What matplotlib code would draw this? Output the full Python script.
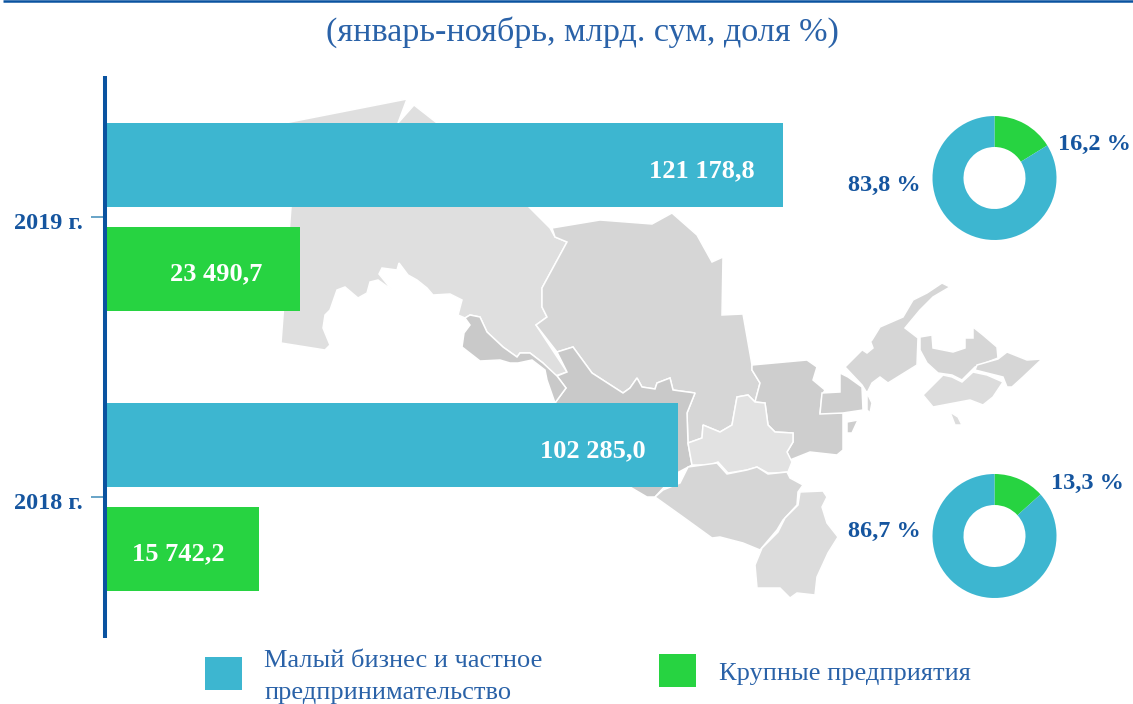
"""Small business vs large enterprises, January-November 2018/2019, over a map."""

import matplotlib

matplotlib.use("Agg")
import matplotlib.pyplot as plt
from matplotlib.patches import Polygon, Rectangle
from matplotlib.transforms import ScaledTranslation

WIDTH, HEIGHT = 1133, 704
SERIF = "Liberation Serif"

BLUE = "#3db6d0"
GREEN = "#27d341"
AXIS_BLUE = "#0a53a0"
TEXT_BLUE = "#2a62a8"
LABEL_BLUE = "#15559f"

TITLE = "(январь-ноябрь, млрд. сум, доля %)"
YEARS = ["2019 г.", "2018 г."]
SERIES = ["Малый бизнес и частное\nпредпринимательство", "Крупные предприятия"]

SMALL_BUSINESS = [121178.8, 102285.0]
# The printed values below do not fit the green bars on the blue bars' scale,
# so these are the lengths as drawn in the picture.
LARGE_DRAWN = [34600, 27250]
SMALL_LABELS = ["121 178,8", "102 285,0"]
LARGE_LABELS = ["23 490,7", "15 742,2"]

SHARE_SMALL = [83.8, 86.7]
SHARE_LARGE = [16.2, 13.3]
SHARE_SMALL_LABELS = ["83,8 %", "86,7 %"]
SHARE_LARGE_LABELS = ["16,2 %", "13,3 %"]

# Label gap from the bar end, in points
SMALL_LABEL_GAP = [-20.5, -23]
LARGE_LABEL_GAP = [-27, -25]

# Background map outlines, traced in image pixels
KARAKALPAKSTAN = [(285, 123), (407, 99), (398, 123), (414, 105), (437, 123), (529, 207), (550, 228), (555, 237),
                  (567, 242), (542, 288), (542, 307), (547, 317), (536, 325), (567, 372), (555, 376), (543, 363),
                  (530, 353), (520, 353), (517, 357), (503, 347), (487, 332), (480, 317), (470, 315), (465, 318),
                  (458, 315), (462, 300), (450, 294), (433, 295), (427, 288), (417, 280), (408, 275), (399, 263),
                  (397, 270), (382, 268), (379, 274), (392, 290), (378, 280), (370, 282), (367, 293), (358, 298),
                  (345, 287), (337, 290), (330, 310), (325, 315), (323, 328), (330, 345), (325, 350), (281, 343),
                  (291, 207)]
NAVOI = [(552, 228), (600, 220), (652, 224), (672, 213), (697, 235), (712, 262), (723, 257), (722, 315), (743, 314),
         (752, 365), (752, 370), (760, 383), (755, 402), (748, 395), (737, 397), (732, 425), (720, 432), (703, 425),
         (702, 438), (688, 443), (687, 413), (695, 393), (673, 390), (670, 378), (657, 383), (655, 389), (642, 387),
         (637, 378), (630, 388), (623, 393), (592, 373), (573, 347), (557, 352), (536, 325), (547, 317), (542, 307),
         (542, 288), (567, 242), (555, 237)]
BUKHARA = [(557, 352), (573, 347), (592, 373), (623, 393), (630, 388), (637, 378), (642, 387), (655, 389), (657, 383),
           (670, 378), (673, 390), (695, 393), (687, 413), (688, 443), (692, 465), (677, 473), (655, 497), (647, 497),
           (630, 487), (555, 403), (566, 388), (557, 376), (567, 372)]
KHOREZM = [(470, 315), (480, 317), (487, 332), (503, 347), (517, 357), (520, 353), (530, 353), (543, 363), (557, 376),
           (566, 388), (555, 403), (547, 380), (545, 370), (532, 360), (518, 363), (510, 363), (500, 360), (480, 361),
           (462, 347), (464, 333), (470, 325), (465, 318)]
SAMARKAND = [(737, 397), (748, 395), (755, 402), (765, 403), (768, 425), (775, 432), (793, 433), (793, 442), (787, 452),
             (792, 462), (788, 472), (775, 473), (768, 473), (757, 467), (747, 470), (728, 473), (718, 462), (710, 465),
             (692, 465), (688, 443), (702, 438), (703, 425), (720, 432), (732, 425)]
JIZZAKH = [(752, 365), (807, 360), (817, 367), (813, 380), (825, 390), (822, 395), (820, 413), (843, 413), (843, 450),
           (837, 455), (810, 452), (790, 460), (787, 452), (793, 442), (793, 433), (775, 432), (768, 425), (765, 403),
           (755, 402), (760, 383), (752, 370)]
SYRDARYA = [(840, 373), (848, 377), (862, 387), (863, 410), (843, 413), (820, 414), (822, 393), (840, 392)]
SYRDARYA_ISLAND = [(847, 422), (858, 420), (852, 433), (847, 433)]
TASHKENT = [(950, 287), (942, 283), (927, 293), (913, 300), (903, 317), (880, 327), (872, 340), (845, 367), (862, 385),
            (867, 393), (872, 403), (870, 413), (867, 410), (867, 393), (872, 383), (880, 377), (888, 383), (917, 365),
            (918, 338), (905, 328), (920, 310), (933, 297)]
TASHKENT_LAKE = [(862, 342), (870, 340), (873, 348), (867, 353), (861, 349)]
NAMANGAN = [(920, 337), (932, 335), (933, 348), (953, 352), (965, 348), (965, 338), (973, 338), (973, 327), (983, 335),
            (997, 347), (998, 358), (975, 367), (962, 380), (952, 375), (938, 373), (927, 363), (920, 350)]
ANDIJAN = [(977, 365), (998, 359), (1007, 352), (1027, 360), (1042, 359), (1023, 377), (1012, 387), (1007, 387),
           (1003, 377), (987, 373), (975, 370)]
FERGANA = [(943, 375), (952, 377), (962, 382), (973, 372), (987, 375), (1003, 382), (993, 397), (983, 405), (970, 400),
           (933, 407), (923, 395)]
FERGANA_ISLAND = [(950, 412), (958, 417), (962, 425), (955, 425)]
KASHKADARYA = [(688, 467), (717, 463), (727, 474), (747, 470), (757, 467), (768, 474), (787, 472), (790, 478),
               (803, 485), (798, 492), (797, 505), (783, 520), (777, 530), (760, 550), (743, 543), (720, 537),
               (712, 538), (683, 517), (655, 497), (663, 490), (680, 483)]
SURKHANDARYA = [(800, 492), (823, 491), (827, 497), (822, 507), (827, 523), (838, 537), (828, 553), (817, 577),
                (815, 595), (797, 593), (790, 598), (780, 588), (757, 588), (755, 565), (762, 548), (778, 532),
                (785, 518), (798, 505)]

MAP_REGIONS = [
    (KARAKALPAKSTAN, "#dfdfdf"),
    (NAVOI, "#d6d6d6"),
    (BUKHARA, "#c9c9c9"),
    (KHOREZM, "#c9c9c9"),
    (JIZZAKH, "#cecece"),
    (SAMARKAND, "#e2e2e2"),
    (SYRDARYA, "#cecece"),
    (SYRDARYA_ISLAND, "#cecece"),
    (TASHKENT, "#d6d6d6"),
    (TASHKENT_LAKE, "white"),
    (NAMANGAN, "#d6d6d6"),
    (ANDIJAN, "#d6d6d6"),
    (FERGANA, "#dcdcdc"),
    (FERGANA_ISLAND, "#dcdcdc"),
    (KASHKADARYA, "#d6d6d6"),
    (SURKHANDARYA, "#dcdcdc"),
]


def pixel_axes(fig, left, top, right, bottom):
    """Add axes placed by image pixels (y counted from the top)."""
    return fig.add_axes([left / WIDTH, 1 - bottom / HEIGHT, (right - left) / WIDTH, (bottom - top) / HEIGHT])


def draw_map(fig):
    ax = pixel_axes(fig, 0, 0, WIDTH, HEIGHT)
    ax.set_xlim(0, WIDTH)
    ax.set_ylim(HEIGHT, 0)
    ax.axis("off")
    for outline, color in MAP_REGIONS:
        ax.add_patch(Polygon(outline, closed=True, facecolor=color, edgecolor="white", linewidth=1.1))


def draw_bars(fig):
    ax = pixel_axes(fig, 107, 76, 783, 638)
    ax.patch.set_alpha(0)
    ax.set_xlim(0, SMALL_BUSINESS[0])
    ax.set_ylim(1.5036, -0.5036)
    for i in range(len(YEARS)):
        ax.barh(i - 0.185, SMALL_BUSINESS[i], height=0.298, color=BLUE)
        ax.barh(i + 0.185, LARGE_DRAWN[i], height=0.298, color=GREEN)
        ax.annotate(SMALL_LABELS[i], (SMALL_BUSINESS[i], i - 0.185), xytext=(SMALL_LABEL_GAP[i], -4),
                    textcoords="offset points", ha="right", va="center", color="white", fontsize=19,
                    fontweight="bold", family=SERIF)
        ax.annotate(LARGE_LABELS[i], (LARGE_DRAWN[i], i + 0.185), xytext=(LARGE_LABEL_GAP[i], -3.5),
                    textcoords="offset points", ha="right", va="center", color="white", fontsize=19,
                    fontweight="bold", family=SERIF)

    for side in ["top", "right", "bottom"]:
        ax.spines[side].set_visible(False)
    ax.spines["left"].set_position(("outward", 1.8))
    ax.spines["left"].set_linewidth(2.9)
    ax.spines["left"].set_color(AXIS_BLUE)
    ax.spines["left"].set_capstyle("butt")
    ax.set_xticks([])
    ax.set_yticks(range(len(YEARS)), YEARS)
    ax.tick_params(axis="y", length=10, width=1.1, color="#3f8bb8", pad=5.5)
    shift = ScaledTranslation(0, -4 / 100, fig.dpi_scale_trans)
    for label in ax.get_yticklabels():
        label.set_family(SERIF)
        label.set_fontweight("bold")
        label.set_fontsize(17.5)
        label.set_color(LABEL_BLUE)
        label.set_transform(label.get_transform() + shift)


def draw_donut(fig, top, small, large):
    ax = pixel_axes(fig, 932.5, top, 1056.5, top + 124)
    ax.pie([large, small], colors=[GREEN, BLUE], startangle=90, counterclock=False,
           radius=1, wedgeprops={"width": 0.5})
    ax.set_xlim(-1, 1)
    ax.set_ylim(-1, 1)


def draw_texts(fig):
    ax = pixel_axes(fig, 0, 0, WIDTH, HEIGHT)
    ax.patch.set_alpha(0)
    ax.set_xlim(0, WIDTH)
    ax.set_ylim(HEIGHT, 0)
    ax.axis("off")

    ax.plot([3, WIDTH], [1, 1], color=AXIS_BLUE, linewidth=1.8, solid_capstyle="butt")
    ax.text(582, 32, TITLE, ha="center", va="center", fontsize=24.6, color=TEXT_BLUE, family=SERIF)

    share_style = {"va": "center", "fontsize": 17.5, "fontweight": "bold", "color": LABEL_BLUE, "family": SERIF}
    ax.text(921, 185, SHARE_SMALL_LABELS[0], ha="right", **share_style)
    ax.text(1058, 144, SHARE_LARGE_LABELS[0], ha="left", **share_style)
    ax.text(921, 531, SHARE_SMALL_LABELS[1], ha="right", **share_style)
    ax.text(1051, 483, SHARE_LARGE_LABELS[1], ha="left", **share_style)

    ax.add_patch(Rectangle((205, 657), 37, 33, facecolor=BLUE))
    ax.add_patch(Rectangle((659, 654), 37, 33, facecolor=GREEN))
    ax.text(264, 677, SERIES[0], ha="left", va="center", fontsize=19, color=TEXT_BLUE, family=SERIF, linespacing=1.53)
    ax.text(719, 674, SERIES[1], ha="left", va="center", fontsize=19, color=TEXT_BLUE, family=SERIF)


fig = plt.figure(figsize=(WIDTH / 100, HEIGHT / 100), dpi=100)
draw_map(fig)
draw_bars(fig)
draw_donut(fig, 116, SHARE_SMALL[0], SHARE_LARGE[0])
draw_donut(fig, 474, SHARE_SMALL[1], SHARE_LARGE[1])
draw_texts(fig)
fig.savefig("out.png", dpi=100)
